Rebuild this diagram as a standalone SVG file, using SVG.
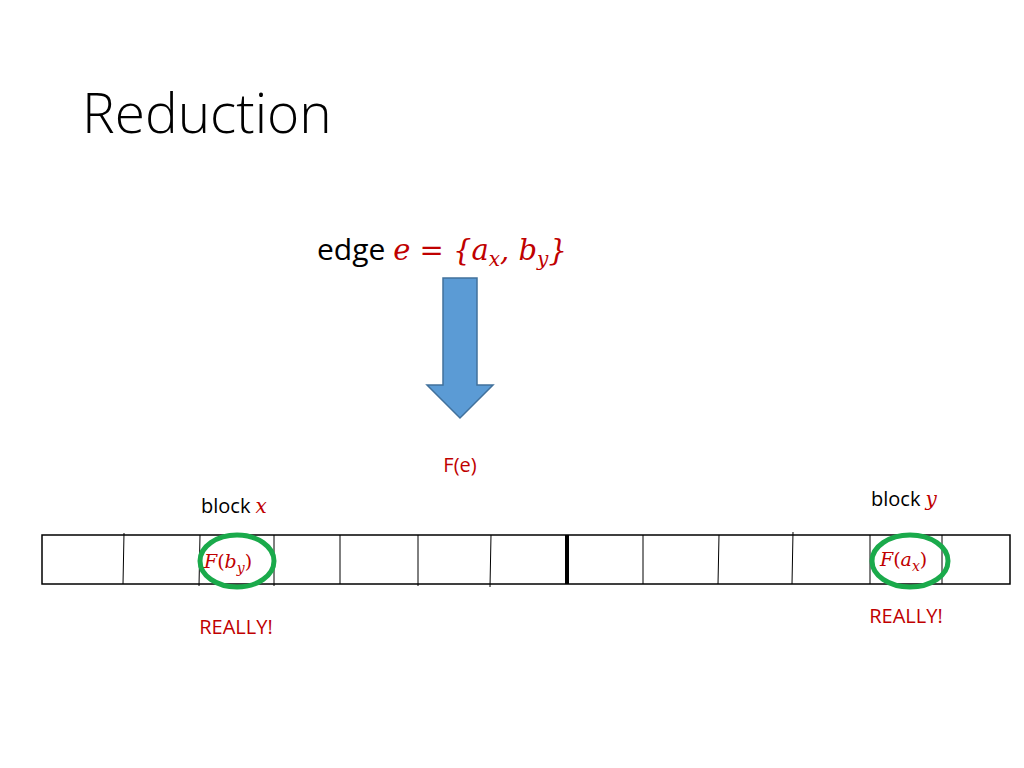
<svg xmlns="http://www.w3.org/2000/svg" width="1024" height="768" viewBox="0 0 1024 768">
<style>
.t{font-family:"Open Sans","Liberation Sans",sans-serif;fill:#000}
.m{font-family:"DejaVu Serif","Liberation Serif",serif;font-style:italic;fill:#C00000}
.r{font-family:"Open Sans","Liberation Sans",sans-serif;fill:#C00000}
.d{stroke:#000;stroke-width:1}
.c{fill:none;stroke:#1AAA4B;stroke-width:5}
</style>
<rect width="1024" height="768" fill="#fff"/>
<text x="82" y="133" font-family="Open Sans, Liberation Sans, sans-serif" font-size="55" font-weight="300" fill="#000">Reduction</text>
<g id="edge">
<text x="317" y="260" class="t" font-size="30">edge <tspan class="m" font-size="29">e</tspan><tspan class="m" font-size="29" font-style="normal"> = {</tspan><tspan class="m" font-size="29">a</tspan><tspan class="m" font-size="20" dy="6">x</tspan><tspan class="m" font-size="29" font-style="normal" dy="-6">, </tspan><tspan class="m" font-size="29">b</tspan><tspan class="m" font-size="20" dy="6">y</tspan><tspan class="m" font-size="29" font-style="normal" dy="-6">}</tspan></text>
</g>
<g id="connectors">
<path d="M443,278 H477 V385 H493 L460,418 L427,385 H443 Z" fill="#5B9BD5" stroke="#41719C" stroke-width="1.5"/>
</g>
<text x="460" y="472" class="r" font-size="20" text-anchor="middle">F(e)</text>
<g id="array">
<rect x="42" y="535" width="968" height="49" fill="#fff" stroke="#000" stroke-width="1.5"/>
<line class="d" x1="124" y1="533" x2="123" y2="584"/>
<line class="d" x1="200" y1="535" x2="199" y2="586"/>
<line class="d" x1="274" y1="535" x2="274" y2="586"/>
<line class="d" x1="340" y1="535" x2="340" y2="584"/>
<line class="d" x1="418" y1="535" x2="418" y2="586"/>
<line class="d" x1="491" y1="535" x2="490" y2="587"/>
<line x1="567" y1="535" x2="567" y2="584" stroke="#000" stroke-width="4"/>
<line class="d" x1="643" y1="535" x2="643" y2="584"/>
<line class="d" x1="719" y1="535" x2="718" y2="584"/>
<line class="d" x1="793" y1="532" x2="792" y2="584"/>
<line class="d" x1="870" y1="535" x2="870" y2="584"/>
<line class="d" x1="942" y1="535" x2="942" y2="584"/>
</g>
<g id="blockx">
<text x="201" y="513" class="t" font-size="20">block <tspan class="m" font-size="20">x</tspan></text>
<ellipse class="c" cx="237" cy="561" rx="37" ry="26"/>
<text x="204" y="568" class="m" font-size="19">F<tspan font-style="normal">(</tspan>b<tspan font-size="14" dy="5">y</tspan><tspan font-style="normal" dy="-5">)</tspan></text>
<text x="236" y="634" class="r" font-size="20" text-anchor="middle">REALLY!</text>
</g>
<g id="blocky">
<text x="871" y="506" class="t" font-size="20">block <tspan class="m" font-size="20">y</tspan></text>
<ellipse class="c" cx="910" cy="561" rx="38" ry="26"/>
<text x="880" y="566" class="m" font-size="19">F<tspan font-style="normal">(</tspan>a<tspan font-size="14" dy="5">x</tspan><tspan font-style="normal" dy="-5">)</tspan></text>
<text x="906" y="623" class="r" font-size="20" text-anchor="middle">REALLY!</text>
</g>
</svg>
